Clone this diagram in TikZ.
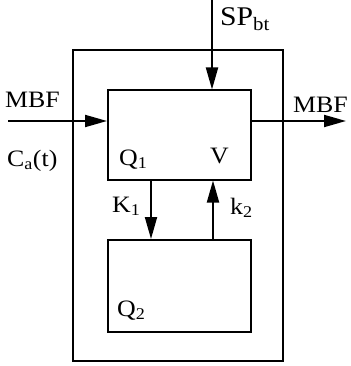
\documentclass[tikz,border=0pt]{standalone}
\usepackage{fontspec}
\setmainfont[FakeStretch=1.1]{Liberation Serif}
\usetikzlibrary{arrows.meta}
\begin{document}
\begin{tikzpicture}[x=1pt,y=-1pt,
  box/.style={draw,line width=2pt,inner sep=0pt},
  conn/.style={line width=2pt,-{Triangle[length=22pt,width=12pt]}},
  lbl/.style={font=\fontsize{23.5}{26}\selectfont,inner sep=0pt,anchor=base west},
  biglbl/.style={font=\fontsize{27}{30}\selectfont,inner sep=0pt,anchor=base west}]
\useasboundingbox (0,0) rectangle (350,366);
\node[box,minimum width=210pt,minimum height=311pt] (outer) at (177.5,205.5) {};
\node[box,minimum width=143pt,minimum height=89pt] (q1) at (179.5,135) {};
\node[box,minimum width=143pt,minimum height=92pt] (q2) at (179.5,286) {};
\coordinate (spin) at (212,0);
\coordinate (mbfin) at (8,121);
\coordinate (mbfout) at (346,121);
\draw[conn] (spin) -- (spin |- q1.north);
\draw[conn] (mbfin) -- (mbfin -| q1.west);
\draw[conn] (q1.east |- mbfout) -- (mbfout);
\draw[conn] (151,0 |- q1.south) -- (151,0 |- q2.north);
\draw[conn] (213,0 |- q2.north) -- (213,0 |- q1.south);
\node[biglbl] (sp) at (220,26) {SP\textsubscript{bt}};
\node[lbl] (mbf1) at (5,108) {MBF};
\node[lbl] (ca) at (7,166) {C\textsubscript{a}(t)};
\node[lbl] (mbf2) at (293,113) {MBF};
\node[lbl] (q1l) at (119,165) {Q\textsubscript{1}};
\node[lbl] (vl) at (210,164) {V};
\node[lbl] (k1) at (112,212) {K\textsubscript{1}};
\node[lbl] (k2) at (230,214) {k\textsubscript{2}};
\node[lbl] (q2l) at (117,316) {Q\textsubscript{2}};
\end{tikzpicture}
\end{document}
